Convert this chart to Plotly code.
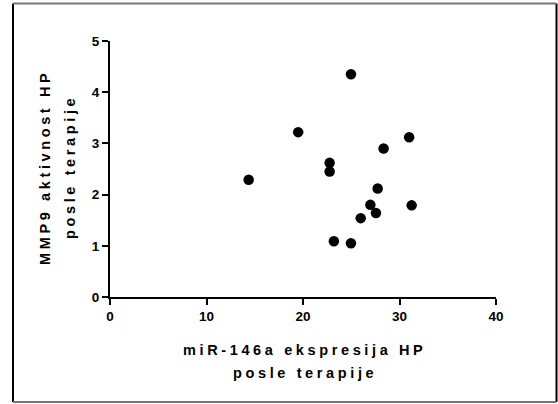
import plotly.graph_objects as go

# data
mir146a = [24.97, 19.5, 31.0, 28.35, 22.76, 22.76, 27.74, 26.98, 27.56, 31.26, 25.98, 23.2, 24.97, 14.37]
mmp9 = [4.35, 3.22, 3.12, 2.90, 2.62, 2.45, 2.12, 1.80, 1.64, 1.79, 1.54, 1.09, 1.05, 2.29]
x_ticks = [0, 10, 20, 30, 40]
y_ticks = [0, 1, 2, 3, 4, 5]
x_title_lines = ["miR-146a ekspresija HP", "posle terapije"]
y_title_lines = ["MMP9 aktivnost HP", "posle terapije"]


def spaced(s, sep):
    return sep.join(list(s))


W, H = 558, 404
L, R, T, B = 110, 62, 40.7, 106.7
pw, ph = W - L - R, H - T - B


def px_to_paper_x(px):
    return (px - L) / pw


def px_to_paper_y(py):
    return (H - B - py) / ph


font_fam = "Liberation Sans"

fig = go.Figure()
fig.add_trace(go.Scatter(
    x=mir146a, y=mmp9, mode="markers",
    marker=dict(color="black", size=10.5, line=dict(width=0)),
    cliponaxis=False, showlegend=False,
))

axis_common = dict(
    showgrid=False, zeroline=False, showline=True, linecolor="black", linewidth=2,
    ticks="outside", ticklen=6, tickwidth=2, tickcolor="black",
    tickfont=dict(family=font_fam, size=13.5, color="black"),
)

fig.update_xaxes(range=[0, 40], tickvals=x_ticks,
                 ticktext=["<b>" + str(v) + "</b>" for v in x_ticks],
                 **axis_common)
fig.update_yaxes(range=[0, 5], tickvals=y_ticks,
                 ticktext=["<b>" + str(v) + "</b>" for v in y_ticks],
                 **axis_common)

title_font = dict(family=font_fam, size=14.5, color="black", weight="bold")
annotations = []
for line, py in zip(x_title_lines, [350, 373]):
    annotations.append(dict(
        text=spaced(line, "\u2005"), xref="paper", yref="paper",
        x=0.5, y=px_to_paper_y(py), xanchor="center", yanchor="middle",
        showarrow=False, font=title_font,
    ))
for line, px in zip(y_title_lines, [45, 70]):
    annotations.append(dict(
        text=spaced(line, "\u2005"), xref="paper", yref="paper",
        x=px_to_paper_x(px), y=0.5, xanchor="center", yanchor="middle",
        textangle=-90, showarrow=False, font=title_font,
    ))

# outer frame
x0, x1 = px_to_paper_x(13), px_to_paper_x(556.5)
y0, y1 = px_to_paper_y(402.5), px_to_paper_y(3)
shapes = [
    dict(type="line", xref="paper", yref="paper", x0=x0, x1=x0, y0=y0, y1=y1, line=dict(color="black", width=2)),
    dict(type="line", xref="paper", yref="paper", x0=x1, x1=x1, y0=y0, y1=y1, line=dict(color="black", width=2)),
    dict(type="line", xref="paper", yref="paper", x0=x0, x1=x1, y0=y1, y1=y1, line=dict(color="#777777", width=2)),
    dict(type="line", xref="paper", yref="paper", x0=x0, x1=x1, y0=y0, y1=y0, line=dict(color="#777777", width=2)),
]

fig.update_layout(
    width=W, height=H,
    margin=dict(l=L, r=R, t=T, b=B, autoexpand=False),
    plot_bgcolor="white", paper_bgcolor="white",
    shapes=shapes, annotations=annotations,
)

fig.write_html("out.html", config={"displayModeBar": False})
